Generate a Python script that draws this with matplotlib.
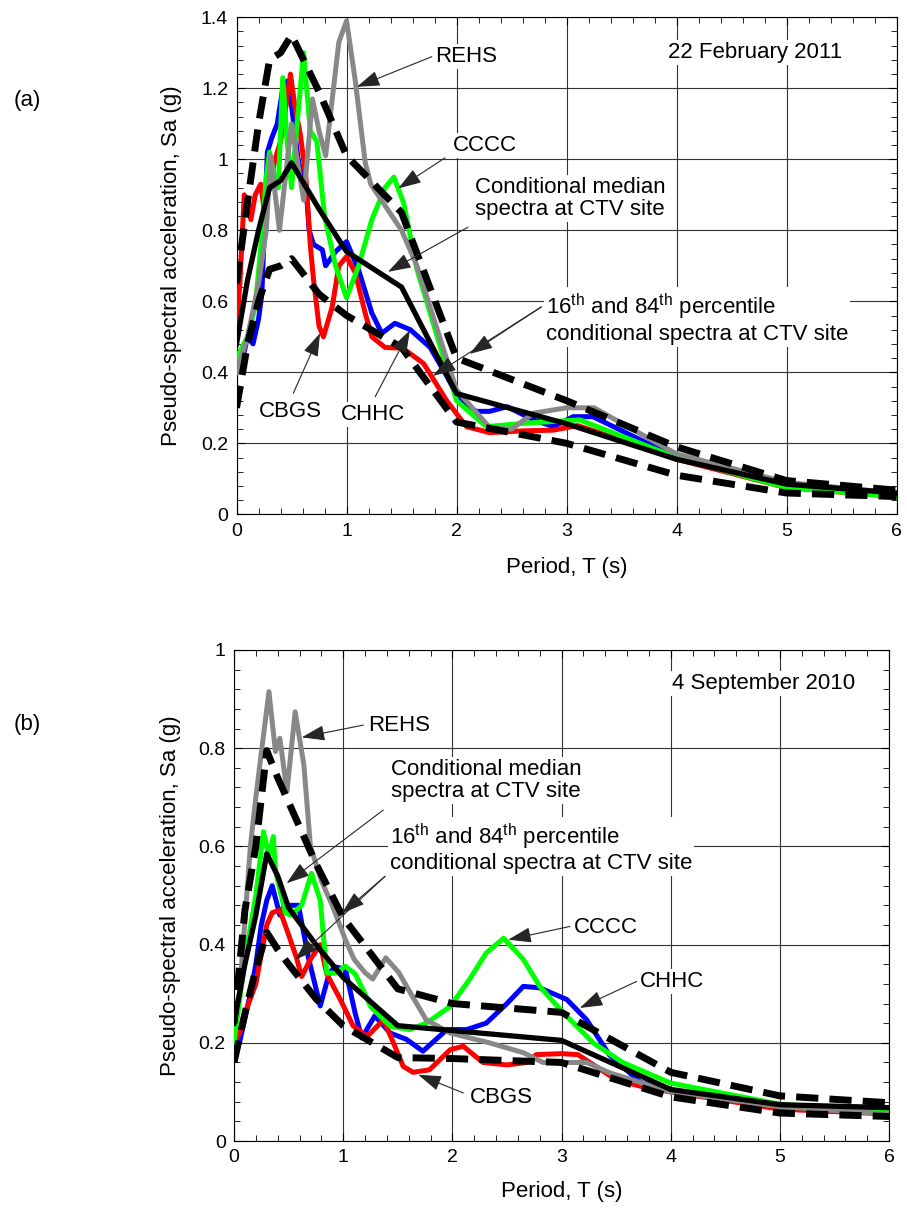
import numpy as np
import matplotlib
matplotlib.use('Agg')
import matplotlib.pyplot as plt
from matplotlib.ticker import MultipleLocator

plt.rcParams['font.family'] = ['Liberation Sans', 'DejaVu Sans']
plt.rcParams['mathtext.fontset'] = 'custom'
plt.rcParams['mathtext.rm'] = 'Liberation Sans'

# ---- (a) 22 February 2011 ----
a_rehs_T = [0, 0.1, 0.2, 0.27, 0.31, 0.39, 0.5, 0.61, 0.69, 0.75, 0.81, 0.93, 1.0, 1.08, 1.17, 1.22,
            1.5, 1.64, 2.0, 2.3, 2.5, 2.7, 3.0, 3.25, 4.0, 5.0, 6.0]
a_rehs_Sa = [0.40, 0.50, 0.65, 0.80, 1.01, 0.80, 1.10, 0.885, 1.17, 1.08, 1.01, 1.33, 1.39, 1.22, 0.99, 0.93,
             0.80, 0.70, 0.35, 0.245, 0.24, 0.285, 0.30, 0.30, 0.17, 0.09, 0.06]
a_chhc_T = [0, 0.05, 0.1, 0.15, 0.2, 0.23, 0.28, 0.32, 0.37, 0.42, 0.46, 0.5, 0.56, 0.64, 0.66, 0.7, 0.78,
            0.81, 0.9, 1.0, 1.11, 1.23, 1.32, 1.44, 1.58, 1.76, 1.91, 2.03, 2.18, 2.3, 2.46, 2.7, 2.88,
            3.06, 3.24, 4.0, 5.0, 6.0]
a_chhc_Sa = [0.40, 0.43, 0.50, 0.48, 0.55, 0.62, 1.02, 1.06, 1.10, 1.20, 1.22, 1.15, 1.0, 0.885, 0.80, 0.76,
             0.745, 0.70, 0.74, 0.768, 0.688, 0.567, 0.51, 0.538, 0.52, 0.47, 0.39, 0.32, 0.29, 0.29,
             0.303, 0.266, 0.247, 0.275, 0.275, 0.16, 0.08, 0.055]
a_cbgs_T = [0, 0.03, 0.07, 0.1, 0.13, 0.17, 0.22, 0.25, 0.3, 0.35, 0.4, 0.45, 0.49, 0.53, 0.58, 0.63, 0.67,
            0.7, 0.75, 0.79, 0.87, 0.93, 1.0, 1.08, 1.17, 1.23, 1.35, 1.51, 1.7, 1.91, 2.09, 2.3, 2.6,
            2.88, 3.1, 3.5, 4.0, 5.0, 6.0]
a_cbgs_Sa = [0.52, 0.65, 0.90, 0.88, 0.83, 0.90, 0.93, 0.86, 0.92, 1.00, 1.05, 1.15, 1.24, 1.15, 1.07, 0.95,
             0.76, 0.66, 0.53, 0.50, 0.585, 0.70, 0.726, 0.68, 0.566, 0.50, 0.47, 0.468, 0.425, 0.32,
             0.247, 0.23, 0.235, 0.237, 0.25, 0.21, 0.155, 0.075, 0.05]
a_cccc_T = [0, 0.05, 0.1, 0.17, 0.22, 0.27, 0.3, 0.34, 0.38, 0.42, 0.46, 0.5, 0.55, 0.61, 0.67, 0.73, 0.8,
            0.9, 1.0, 1.11, 1.23, 1.35, 1.43, 1.52, 1.64, 2.0, 2.27, 2.64, 3.12, 4.0, 5.0, 6.0]
a_cccc_Sa = [0.44, 0.47, 0.50, 0.585, 0.75, 0.95, 1.02, 0.96, 0.92, 1.23, 1.05, 0.92, 1.10, 1.30, 1.08, 1.05,
             0.84, 0.70, 0.61, 0.70, 0.83, 0.92, 0.95, 0.876, 0.69, 0.32, 0.247, 0.257, 0.266, 0.16,
             0.075, 0.05]
a_cs_T = [0, 0.1, 0.2, 0.3, 0.4, 0.5, 0.75, 1.0, 1.5, 2.0, 3.0, 4.0, 5.0, 6.0]
a_median = [0.48, 0.66, 0.80, 0.92, 0.94, 0.99, 0.86, 0.74, 0.64, 0.34, 0.255, 0.155, 0.085, 0.06]
a_p84 = [0.65, 0.88, 1.10, 1.28, 1.30, 1.35, 1.19, 1.01, 0.85, 0.44, 0.32, 0.19, 0.095, 0.068]
a_p16 = [0.30, 0.48, 0.60, 0.69, 0.70, 0.72, 0.62, 0.56, 0.47, 0.26, 0.20, 0.11, 0.06, 0.05]

# ---- (b) 4 September 2010 ----
b_rehs_T = [0, 0.05, 0.1, 0.15, 0.2, 0.25, 0.32, 0.38, 0.42, 0.485, 0.56, 0.64, 0.7, 0.8, 0.9, 1.02, 1.1,
            1.2, 1.27, 1.39, 1.51, 1.62, 1.76, 1.98, 2.34, 2.65, 2.83, 3.23, 3.44, 4.0, 5.0, 6.0]
b_rehs_Sa = [0.25, 0.30, 0.45, 0.60, 0.70, 0.79, 0.915, 0.793, 0.82, 0.712, 0.874, 0.766, 0.60, 0.53, 0.48,
             0.41, 0.37, 0.343, 0.33, 0.373, 0.343, 0.30, 0.247, 0.22, 0.20, 0.18, 0.16, 0.16, 0.139,
             0.10, 0.07, 0.055]
b_chhc_T = [0, 0.05, 0.1, 0.15, 0.2, 0.25, 0.3, 0.35, 0.42, 0.46, 0.59, 0.68, 0.79, 0.87, 0.92, 1.02, 1.11,
            1.17, 1.29, 1.43, 1.58, 1.73, 1.95, 2.13, 2.31, 2.5, 2.65, 2.8, 3.05, 3.23, 3.44, 3.72, 4.0,
            5.0, 6.0]
b_chhc_Sa = [0.18, 0.20, 0.25, 0.30, 0.36, 0.44, 0.49, 0.52, 0.46, 0.48, 0.48, 0.375, 0.275, 0.34, 0.355,
             0.35, 0.26, 0.21, 0.255, 0.22, 0.207, 0.183, 0.227, 0.227, 0.24, 0.28, 0.315, 0.312, 0.288,
             0.247, 0.175, 0.12, 0.10, 0.07, 0.058]
b_cbgs_T = [0, 0.05, 0.1, 0.15, 0.2, 0.25, 0.3, 0.35, 0.42, 0.5, 0.57, 0.62, 0.7, 0.79, 0.85, 0.97, 1.09,
            1.22, 1.37, 1.46, 1.55, 1.64, 1.79, 1.98, 2.1, 2.28, 2.5, 2.68, 2.77, 3.0, 3.15, 3.5, 3.75,
            4.0, 5.0, 6.0]
b_cbgs_Sa = [0.20, 0.22, 0.26, 0.29, 0.32, 0.38, 0.44, 0.465, 0.47, 0.42, 0.375, 0.335, 0.37, 0.40, 0.34,
             0.29, 0.235, 0.213, 0.247, 0.20, 0.152, 0.14, 0.145, 0.186, 0.193, 0.16, 0.155, 0.16, 0.176,
             0.178, 0.176, 0.125, 0.11, 0.10, 0.065, 0.055]
b_cccc_T = [0, 0.1, 0.2, 0.27, 0.32, 0.36, 0.38, 0.47, 0.52, 0.62, 0.71, 0.79, 0.85, 0.93, 1.02, 1.11, 1.2,
            1.25, 1.43, 1.61, 1.76, 1.98, 2.16, 2.31, 2.47, 2.65, 2.8, 3.0, 3.29, 3.56, 4.0, 5.0, 6.0]
b_cccc_Sa = [0.20, 0.37, 0.50, 0.63, 0.58, 0.62, 0.55, 0.465, 0.46, 0.48, 0.545, 0.49, 0.342, 0.342, 0.356,
             0.34, 0.30, 0.274, 0.234, 0.227, 0.24, 0.274, 0.33, 0.383, 0.413, 0.37, 0.315, 0.265, 0.20,
             0.16, 0.118, 0.075, 0.06]
b_cs_T = [0, 0.1, 0.2, 0.3, 0.4, 0.5, 0.75, 1.0, 1.5, 2.0, 3.0, 4.0, 5.0, 6.0]
b_median = [0.24, 0.36, 0.46, 0.585, 0.54, 0.475, 0.40, 0.333, 0.235, 0.225, 0.205, 0.105, 0.074, 0.068]
b_p84 = [0.24, 0.47, 0.60, 0.795, 0.74, 0.69, 0.565, 0.455, 0.31, 0.28, 0.262, 0.14, 0.092, 0.078]
b_p16 = [0.16, 0.26, 0.35, 0.425, 0.39, 0.36, 0.29, 0.235, 0.17, 0.168, 0.16, 0.09, 0.057, 0.05]

pct_label = '16$^{\\rm th}$ and 84$^{\\rm th}$ percentile\nconditional spectra at CTV site'
med_label = 'Conditional median\nspectra at CTV site'

fs_tick = 14
fs_text = 16


def draw_records(ax, records, cs_T, median, p16, p84):
    for T, Sa, c in records:
        ax.plot(T, Sa, color=c, lw=3.6, solid_joinstyle='round', zorder=3)
    ax.plot(cs_T, median, color='k', lw=3.8, zorder=4)
    for p in (p16, p84):
        ax.plot(cs_T, p, color='k', lw=5, dashes=(3.2, 1.6), zorder=5)


def arrow(ax, tail, head):
    ax.annotate('', xy=head, xytext=tail,
                arrowprops=dict(arrowstyle='-|>,head_length=0.9,head_width=0.3',
                                color='0.15', lw=0.8, mutation_scale=16, shrinkA=0, shrinkB=0),
                zorder=7)


def label(ax, x, y, s, ha='center'):
    ax.text(x, y, s, ha=ha, va='center', fontsize=fs_text, zorder=8, linespacing=1.1,
            bbox=dict(facecolor='white', edgecolor='none', pad=1.5))


def style_axes(ax, ymax):
    ax.set_xlim(0, 6)
    ax.set_ylim(0, ymax)
    ax.xaxis.set_major_locator(MultipleLocator(1))
    ax.xaxis.set_minor_locator(MultipleLocator(0.2))
    ax.yaxis.set_major_locator(MultipleLocator(0.2))
    ax.yaxis.set_minor_locator(MultipleLocator(0.04))
    ax.yaxis.set_major_formatter(matplotlib.ticker.FormatStrFormatter('%g'))
    ax.tick_params(which='both', direction='in', top=True, right=True, labelsize=fs_tick)
    ax.tick_params(which='major', length=6, pad=6)
    ax.tick_params(which='minor', length=4)
    ax.grid(True, which='major', color='0.2', lw=0.8, zorder=0)
    ax.set_axisbelow(True)
    ax.set_xlabel('Period, T (s)', fontsize=fs_text)
    ax.set_ylabel('Pseudo-spectral acceleration, Sa (g)', fontsize=fs_text)


fig = plt.figure(figsize=(9.07, 12.09), dpi=100)
ax1 = fig.add_axes([0.2608, 0.5746, 0.7277, 0.4111])
ax2 = fig.add_axes([0.2580, 0.0562, 0.7222, 0.4062])

# panel (a)
draw_records(ax1, [(a_chhc_T, a_chhc_Sa, '#0000ff'), (a_cbgs_T, a_cbgs_Sa, '#ff0000'),
                   (a_cccc_T, a_cccc_Sa, '#00ff00'), (a_rehs_T, a_rehs_Sa, '#888888')],
             a_cs_T, a_median, a_p16, a_p84)
style_axes(ax1, 1.4)
ax1.yaxis.set_label_coords(-0.083, 0.5)
ax1.xaxis.set_label_coords(0.5, -0.085)
label(ax1, 4.71, 1.30, '22 February 2011')
label(ax1, 2.09, 1.289, 'REHS')
arrow(ax1, (1.775, 1.289), (1.093, 1.204))
label(ax1, 2.26, 1.04, 'CCCC')
arrow(ax1, (1.895, 1.004), (1.47, 0.918))
label(ax1, 3.03, 0.89, med_label)
arrow(ax1, (2.105, 0.809), (1.377, 0.683))
label(ax1, 2.81, 0.552, pct_label, ha='left')
arrow(ax1, (2.77, 0.584), (2.12, 0.452))
arrow(ax1, (2.77, 0.584), (1.786, 0.39))
label(ax1, 0.49, 0.289, 'CBGS')
arrow(ax1, (0.516, 0.341), (0.759, 0.51))
label(ax1, 1.236, 0.28, 'CHHC')
arrow(ax1, (1.26, 0.331), (1.577, 0.519))

# panel (b)
draw_records(ax2, [(b_chhc_T, b_chhc_Sa, '#0000ff'), (b_cbgs_T, b_cbgs_Sa, '#ff0000'),
                   (b_cccc_T, b_cccc_Sa, '#00ff00'), (b_rehs_T, b_rehs_Sa, '#888888')],
             b_cs_T, b_median, b_p16, b_p84)
style_axes(ax2, 1.0)
ax2.yaxis.set_label_coords(-0.081, 0.5)
ax2.xaxis.set_label_coords(0.5, -0.082)
label(ax2, 4.85, 0.932, '4 September 2010')
label(ax2, 1.51, 0.847, 'REHS')
arrow(ax2, (1.184, 0.847), (0.62, 0.822))
label(ax2, 2.31, 0.734, med_label)
arrow(ax2, (1.367, 0.674), (0.482, 0.525))
label(ax2, 1.43, 0.597, pct_label, ha='left')
arrow(ax2, (1.383, 0.539), (0.989, 0.464))
arrow(ax2, (1.383, 0.539), (0.561, 0.369))
label(ax2, 3.41, 0.434, 'CCCC')
arrow(ax2, (3.077, 0.437), (2.512, 0.41))
label(ax2, 4.01, 0.3255, 'CHHC')
arrow(ax2, (3.687, 0.325), (3.168, 0.271))
label(ax2, 2.45, 0.0895, 'CBGS')
arrow(ax2, (2.10, 0.098), (1.688, 0.135))

fig.text(0.03, 0.9165, '(a)', fontsize=fs_text, ha='center', va='center')
fig.text(0.03, 0.401, '(b)', fontsize=fs_text, ha='center', va='center')

fig.savefig('out.png', dpi=100)
